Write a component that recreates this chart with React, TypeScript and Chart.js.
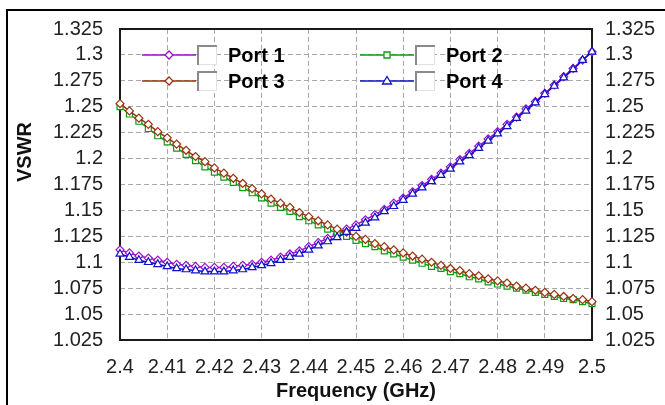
import React, { useEffect, useRef } from "react";
import { Chart, registerables } from "chart.js";

Chart.register(...registerables);

// Sweep frequencies (GHz)
const frequencyGHz = [
  2.400, 2.402, 2.404, 2.406, 2.408, 2.410, 2.412, 2.414, 2.416, 2.418,
  2.420, 2.422, 2.424, 2.426, 2.428, 2.430, 2.432, 2.434, 2.436, 2.438,
  2.440, 2.442, 2.444, 2.446, 2.448, 2.450, 2.452, 2.454, 2.456, 2.458,
  2.460, 2.462, 2.464, 2.466, 2.468, 2.470, 2.472, 2.474, 2.476, 2.478,
  2.480, 2.482, 2.484, 2.486, 2.488, 2.490, 2.492, 2.494, 2.496, 2.498,
  2.500,
];

const port1 = [
  1.112, 1.109, 1.106, 1.104, 1.102, 1.100, 1.098, 1.097, 1.096, 1.095,
  1.095, 1.095, 1.096, 1.097, 1.098, 1.100, 1.102, 1.105, 1.108, 1.111,
  1.115, 1.119, 1.123, 1.127, 1.132, 1.136, 1.141, 1.146, 1.151, 1.157,
  1.162, 1.168, 1.174, 1.180, 1.186, 1.192, 1.199, 1.205, 1.212, 1.219,
  1.226, 1.233, 1.240, 1.248, 1.255, 1.263, 1.271, 1.279, 1.287, 1.295,
  1.303,
];

const port2 = [
  1.250, 1.243, 1.236, 1.229, 1.222, 1.216, 1.210, 1.204, 1.198, 1.192,
  1.187, 1.182, 1.177, 1.172, 1.167, 1.162, 1.157, 1.153, 1.149, 1.144,
  1.140, 1.136, 1.132, 1.128, 1.125, 1.121, 1.118, 1.115, 1.111, 1.108,
  1.105, 1.102, 1.099, 1.096, 1.094, 1.091, 1.089, 1.086, 1.084, 1.081,
  1.079, 1.077, 1.075, 1.073, 1.071, 1.069, 1.067, 1.065, 1.064, 1.062,
  1.060,
];

const port3 = [
  1.253, 1.246, 1.239, 1.233, 1.226, 1.220, 1.214, 1.208, 1.202, 1.197,
  1.191, 1.186, 1.181, 1.176, 1.171, 1.166, 1.161, 1.157, 1.153, 1.148,
  1.144, 1.140, 1.136, 1.132, 1.129, 1.125, 1.122, 1.118, 1.115, 1.112,
  1.109, 1.106, 1.103, 1.100, 1.097, 1.094, 1.092, 1.089, 1.087, 1.084,
  1.082, 1.080, 1.077, 1.075, 1.073, 1.071, 1.069, 1.067, 1.065, 1.064,
  1.062,
];

const port4 = [
  1.108, 1.105, 1.102, 1.100, 1.098, 1.096, 1.094, 1.093, 1.092, 1.091,
  1.091, 1.091, 1.092, 1.093, 1.095, 1.097, 1.099, 1.102, 1.105, 1.108,
  1.112, 1.116, 1.120, 1.124, 1.129, 1.133, 1.138, 1.143, 1.149, 1.154,
  1.160, 1.166, 1.172, 1.178, 1.184, 1.190, 1.197, 1.203, 1.210, 1.217,
  1.224, 1.231, 1.239, 1.246, 1.254, 1.262, 1.270, 1.278, 1.286, 1.295,
  1.303,
];

const seriesNames = ["Port 1", "Port 2", "Port 3", "Port 4"];

const xTickValues = [2.4, 2.41, 2.42, 2.43, 2.44, 2.45, 2.46, 2.47, 2.48, 2.49, 2.5];
const xTickLabels = ["2.4", "2.41", "2.42", "2.43", "2.44", "2.45", "2.46", "2.47", "2.48", "2.49", "2.5"];

const yTickValues = [1.025, 1.05, 1.075, 1.1, 1.125, 1.15, 1.175, 1.2, 1.225, 1.25, 1.275, 1.3, 1.325];
const yTickLabels = ["1.025", "1.05", "1.075", "1.1", "1.125", "1.15", "1.175", "1.2", "1.225", "1.25", "1.275", "1.3", "1.325"];

const xTitle = "Frequency (GHz)";
const yTitle = "VSWR";

const FONT = "'Liberation Sans', Arial, sans-serif";

type Style = { color: string; marker: "diamond" | "square" | "triangle" };
const styles: Style[] = [
  { color: "#9a10cc", marker: "diamond" },
  { color: "#119a11", marker: "square" },
  { color: "#993311", marker: "diamond" },
  { color: "#1010c8", marker: "triangle" },
];

const pointStyleOf = (m: Style["marker"]) =>
  m === "diamond" ? "rectRot" : m === "square" ? "rect" : "triangle";

function drawMarker(ctx: CanvasRenderingContext2D, x: number, y: number, s: Style) {
  ctx.beginPath();
  if (s.marker === "diamond") {
    ctx.moveTo(x, y - 4);
    ctx.lineTo(x + 4, y);
    ctx.lineTo(x, y + 4);
    ctx.lineTo(x - 4, y);
    ctx.closePath();
  } else if (s.marker === "square") {
    ctx.rect(x - 3, y - 3, 6, 6);
  } else {
    ctx.moveTo(x, y - 4.5);
    ctx.lineTo(x + 4.5, y + 3);
    ctx.lineTo(x - 4.5, y + 3);
    ctx.closePath();
  }
  ctx.fillStyle = "#ffffff";
  ctx.fill();
  ctx.lineWidth = 1.3;
  ctx.strokeStyle = s.color;
  ctx.stroke();
}

// Page background, outer frame line and plot border
const framePlugin = {
  id: "framePlugin",
  beforeDraw(chart: any) {
    const { ctx, width, height } = chart;
    ctx.save();
    ctx.fillStyle = "#ffffff";
    ctx.fillRect(0, 0, width, height);
    ctx.fillStyle = "#000000";
    ctx.fillRect(6, 9, width - 6, 2);
    ctx.fillRect(6, 9, 2, height - 9);
    ctx.restore();
  },
  beforeDatasetsDraw(chart: any) {
    const { ctx, chartArea: a } = chart;
    ctx.save();
    ctx.strokeStyle = "#1a1a1a";
    ctx.lineWidth = 2;
    ctx.strokeRect(a.left, a.top, a.right - a.left, a.bottom - a.top);
    ctx.restore();
  },
  afterDraw(chart: any) {
    const { ctx, chartArea: a } = chart;
    ctx.save();
    // axis titles
    ctx.fillStyle = "#111111";
    ctx.font = `bold 20px ${FONT}`;
    ctx.textAlign = "center";
    ctx.textBaseline = "middle";
    ctx.fillText(xTitle, (a.left + a.right) / 2, 391);
    ctx.save();
    ctx.translate(25, 152);
    ctx.rotate(-Math.PI / 2);
    ctx.fillText(yTitle, 0, 0);
    ctx.restore();

    // legend: two columns, two rows inside the plot
    const colX = [a.left + 22, a.left + 240];
    const rowY = [chart.scales.y.getPixelForValue(1.3), chart.scales.y.getPixelForValue(1.275)];
    seriesNames.forEach((name, i) => {
      const s = styles[i];
      const x0 = colX[i % 2];
      const y0 = Math.round(rowY[Math.floor(i / 2)]);
      ctx.strokeStyle = s.color;
      ctx.lineWidth = 1.5;
      ctx.beginPath();
      ctx.moveTo(x0, y0);
      ctx.lineTo(x0 + 54, y0);
      ctx.stroke();
      drawMarker(ctx, x0 + 27, y0, s);
      // checkbox
      const bx = x0 + 55;
      const by = y0 - 10;
      ctx.fillStyle = "#ffffff";
      ctx.fillRect(bx, by, 20, 20);
      ctx.fillStyle = "#e2e2e2";
      ctx.fillRect(bx + 19, by, 1, 20);
      ctx.fillRect(bx, by + 19, 20, 1);
      ctx.fillStyle = "#8a8a8a";
      ctx.fillRect(bx, by, 20, 2);
      ctx.fillRect(bx, by, 2, 20);
      // label
      ctx.fillStyle = "#000000";
      ctx.font = `bold 20px ${FONT}`;
      ctx.textAlign = "left";
      ctx.textBaseline = "middle";
      ctx.fillText(name, bx + 31, y0 + 1);
    });
    ctx.restore();
  },
};

export default function App() {
  const canvasRef = useRef<HTMLCanvasElement | null>(null);

  useEffect(() => {
    const canvas = canvasRef.current;
    if (!canvas) return;
    const series = [port1, port2, port3, port4];
    const datasets = series.map((vals, i) => ({
      label: seriesNames[i],
      data: vals.map((v, k) => ({ x: frequencyGHz[k], y: v })),
      borderColor: styles[i].color,
      backgroundColor: "#ffffff",
      borderWidth: 1.5,
      pointStyle: pointStyleOf(styles[i].marker),
      pointRadius: styles[i].marker === "square" ? 4.2 : styles[i].marker === "triangle" ? 4.5 : 4,
      pointBorderWidth: 1.2,
      pointBorderColor: styles[i].color,
      pointBackgroundColor: "#ffffff",
      tension: 0,
      clip: false as const,
      order: 3 - i,
    }));

    const tickFont = { family: FONT, size: 20 };
    const chart = new Chart(canvas, {
      type: "line",
      data: { datasets },
      plugins: [framePlugin],
      options: {
        animation: false,
        responsive: false,
        devicePixelRatio: 1,
        layout: { padding: { top: 28, left: 0, right: 0, bottom: 0 } },
        plugins: { legend: { display: false }, tooltip: { enabled: false } },
        scales: {
          x: {
            type: "linear",
            position: "bottom",
            min: 2.4,
            max: 2.5,
            afterBuildTicks: (s: any) => {
              s.ticks = xTickValues.map((v) => ({ value: v }));
            },
            afterFit: (s: any) => {
              s.height = 65;
            },
            ticks: {
              autoSkip: false,
              maxRotation: 0,
              padding: 15,
              color: "#222222",
              font: tickFont,
              callback: (_v: any, i: number) => xTickLabels[i],
            },
            grid: { color: "#a8a8a8", lineWidth: 1, drawTicks: false },
            border: { display: false, dash: [5, 3] },
          },
          y: {
            type: "linear",
            position: "left",
            min: 1.025,
            max: 1.325,
            afterBuildTicks: (s: any) => {
              s.ticks = yTickValues.map((v) => ({ value: v }));
            },
            afterFit: (s: any) => {
              s.width = 120;
            },
            ticks: {
              autoSkip: false,
              padding: 17,
              color: "#222222",
              font: tickFont,
              callback: (_v: any, i: number) => yTickLabels[i],
            },
            grid: { color: "#a8a8a8", lineWidth: 1, drawTicks: false },
            border: { display: false, dash: [5, 3] },
          },
          y2: {
            type: "linear",
            position: "right",
            min: 1.025,
            max: 1.325,
            afterBuildTicks: (s: any) => {
              s.ticks = yTickValues.map((v) => ({ value: v }));
            },
            afterFit: (s: any) => {
              s.width = 73;
            },
            ticks: {
              autoSkip: false,
              padding: 13,
              color: "#222222",
              font: tickFont,
              callback: (_v: any, i: number) => yTickLabels[i],
            },
            grid: { display: false, drawTicks: false },
            border: { display: false },
          },
        },
      },
    });
    return () => chart.destroy();
  }, []);

  return (
    <div style={{ position: "fixed", left: 0, top: 0, width: 665, height: 405, background: "#fff" }}>
      <canvas ref={canvasRef} width={665} height={405} style={{ display: "block", width: 665, height: 405 }} />
    </div>
  );
}
